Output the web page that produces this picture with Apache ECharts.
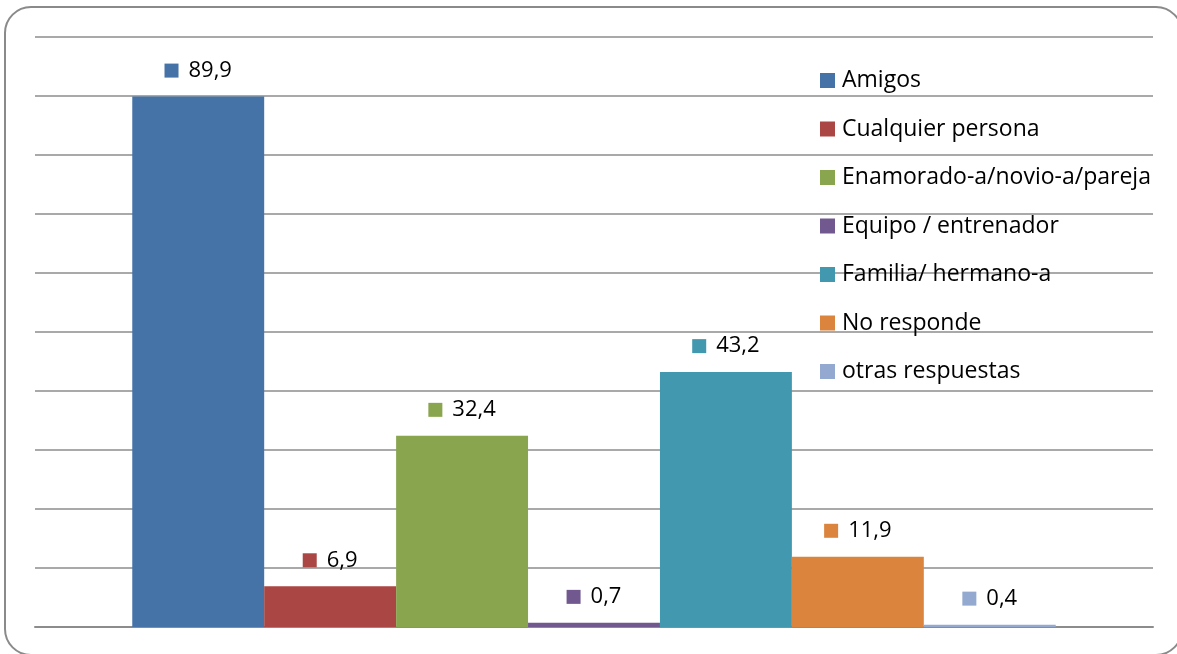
<!DOCTYPE html>
<html>
<head>
<meta charset="utf-8">
<script src="https://cdn.jsdelivr.net/npm/echarts@6/dist/echarts.min.js"></script>
<style>
  html, body { margin: 0; padding: 0; background: #fff; }
  #chart { width: 1177px; height: 654px; }
</style>
</head>
<body>
<div id="chart"></div>
<script>
// datos del gráfico
const seriesNames = [
  'Amigos',
  'Cualquier persona',
  'Enamorado-a/novio-a/pareja',
  'Equipo / entrenador',
  'Familia/ hermano-a',
  'No responde',
  'otras respuestas'
];
const seriesValues = [89.9, 6.9, 32.4, 0.7, 43.2, 11.9, 0.4];
const seriesColors = ['#4572a7', '#aa4643', '#89a54e', '#71588f', '#4198af', '#db843d', '#93a9cf'];
const categories = [''];

const FONT = 'Open Sans';

const chart = echarts.init(document.getElementById('chart'));

const series = seriesNames.map((name, i) => ({
  name: name,
  type: 'bar',
  data: [seriesValues[i]],
  itemStyle: { color: seriesColors[i] },
  barGap: '0%',
  barCategoryGap: '17.4%',
  label: {
    show: true,
    position: 'top',
    distance: 15,
    formatter: (p) => '{sq|}   {v|' + String(p.value).replace('.', ',') + '}',
    rich: {
      sq: { width: 14, height: 14, backgroundColor: seriesColors[i] },
      v: { fontFamily: FONT, fontSize: 22, color: '#000' }
    }
  }
}));

chart.setOption({
  animation: false,
  backgroundColor: '#fff',
  // marco redondeado
  graphic: [{
    type: 'rect',
    shape: { x: 5, y: 7, width: 1177, height: 648, r: 26 },
    style: { fill: 'none', stroke: '#8a8a8a', lineWidth: 2 },
    z: -1
  }],
  grid: { left: 35, right: 24, top: 37, bottom: 27 },
  legend: {
    orient: 'vertical',
    left: 820,
    top: 69,
    padding: 0,
    icon: 'rect',
    itemWidth: 15,
    itemHeight: 15,
    itemGap: 25.5,
    textStyle: { fontFamily: FONT, fontSize: 23, color: '#000', padding: [0, 0, 0, 2] },
    data: seriesNames
  },
  xAxis: {
    type: 'category',
    data: categories,
    axisLine: { show: true, lineStyle: { color: '#8c8c8c', width: 2 } },
    axisTick: { show: false },
    axisLabel: { show: false }
  },
  yAxis: {
    type: 'value',
    min: 0,
    max: 100,
    interval: 10,
    axisLine: { show: false },
    axisTick: { show: false },
    axisLabel: { show: false },
    splitLine: { lineStyle: { color: '#8c8c8c', width: 1.5 } }
  },
  series: series
});
</script>
</body>
</html>
